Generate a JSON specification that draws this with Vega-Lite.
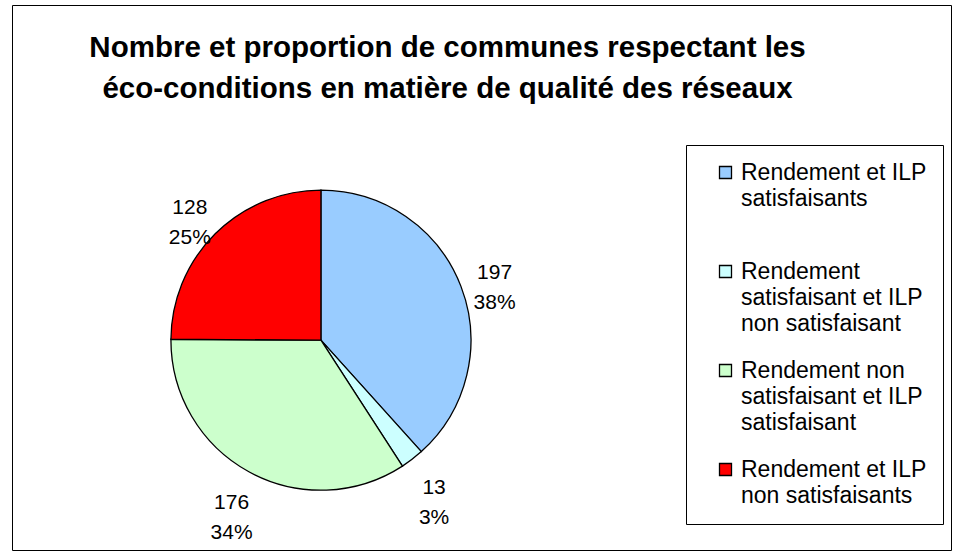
{
  "$schema": "https://vega.github.io/schema/vega-lite/v6.json",
  "width": 959,
  "height": 556,
  "autosize": {"type": "fit", "contains": "padding"},
  "padding": {"left": 12, "top": 5, "right": 8, "bottom": 6},
  "background": "white",
  "view": {"stroke": "black", "strokeWidth": 1},
  "config": {
    "view": {"stroke": "black", "strokeWidth": 1},
    "font": "Liberation Sans",
    "style": {"guide-label": {"lineHeight": 26}}
  },
  "title": {
    "text": ["Nombre et proportion de communes respectant les", "éco-conditions en matière de qualité des réseaux"],
    "fontSize": 29.5,
    "fontWeight": "bold",
    "font": "Liberation Sans",
    "color": "black",
    "anchor": "middle",
    "offset": -99,
    "dx": -34,
    "lineHeight": 41
  },
  "data": {
    "values": [
      {"categorie": "Rendement et ILP|satisfaisants", "communes": 197, "ordre": 1},
      {"categorie": "Rendement|satisfaisant et ILP|non satisfaisant", "communes": 13, "ordre": 2},
      {"categorie": "Rendement non|satisfaisant et ILP|satisfaisant", "communes": 176, "ordre": 3},
      {"categorie": "Rendement et ILP|non satisfaisants", "communes": 128, "ordre": 4}
    ]
  },
  "transform": [
    {"joinaggregate": [{"op": "sum", "field": "communes", "as": "total"}]},
    {"calculate": "[format(datum.communes, 'd'), format(datum.communes / datum.total, '.0%')]", "as": "etiquette"}
  ],
  "encoding": {
    "theta": {"field": "communes", "type": "quantitative", "stack": true},
    "order": {"field": "ordre", "type": "quantitative"},
    "color": {
      "field": "categorie",
      "type": "nominal",
      "scale": {
        "domain": [
          "Rendement et ILP|satisfaisants",
          "Rendement|satisfaisant et ILP|non satisfaisant",
          "Rendement non|satisfaisant et ILP|satisfaisant",
          "Rendement et ILP|non satisfaisants"
        ],
        "range": ["#99CCFF", "#CCFFFF", "#CCFFCC", "#FF0000"]
      },
      "legend": {
        "title": null,
        "orient": "none",
        "legendX": 674,
        "legendY": 140,
        "strokeColor": "black",
        "fillColor": "white",
        "padding": 16,
        "symbolOffset": 12,
        "labelOffset": 4,
        "labelFont": "Liberation Sans",
        "labelFontSize": 23,
        "labelColor": "black",
        "labelLimit": 400,
        "labelExpr": "split(datum.index == 0 ? datum.label + '| ' : datum.label, '|')",
        "symbolType": "square",
        "symbolSize": 144,
        "symbolStrokeColor": "black",
        "symbolStrokeWidth": 1.3,
        "rowPadding": 23
      }
    }
  },
  "layer": [
    {
      "mark": {"type": "arc", "outerRadius": 150, "stroke": "black", "strokeWidth": 1.3, "x": {"expr": "width * 0.329"}, "y": {"expr": "height * 0.615"}}
    },
    {
      "mark": {"type": "text", "radius": 186, "fontSize": 21, "font": "Liberation Sans", "color": "black", "lineHeight": 30, "x": {"expr": "width * 0.329"}, "y": {"expr": "height * 0.615"}},
      "encoding": {
        "text": {"field": "etiquette"},
        "color": {"value": "black"}
      }
    }
  ]
}
